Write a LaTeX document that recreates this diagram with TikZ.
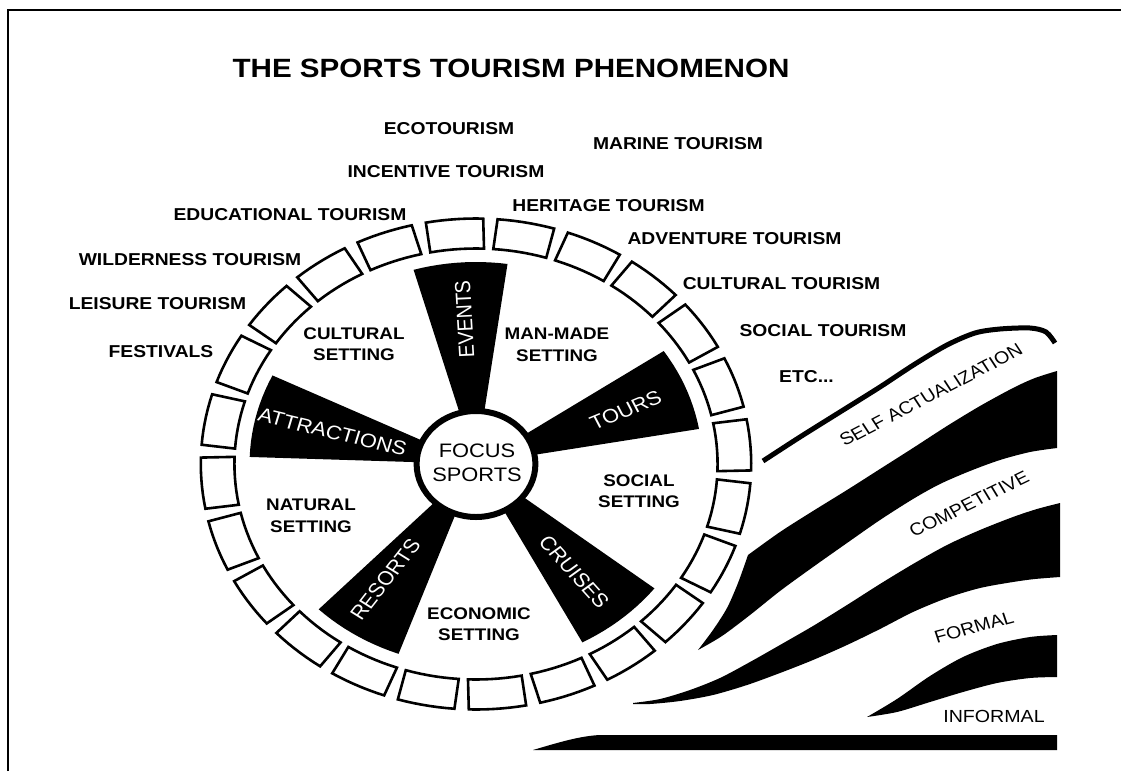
\documentclass[tikz,border=0pt]{standalone}
\usepackage{fontspec}
\setmainfont{Liberation Sans}
\newcommand\spTitleFont{\fontsize{26.4}{30}\selectfont\bfseries}
\newcommand\spLabFont{\fontsize{17.2}{20}\selectfont\bfseries}
\newcommand\spSetFont{\fontsize{16.8}{21.5}\selectfont\bfseries}
\newcommand\spBladeFont{\fontsize{19.5}{22}\selectfont}
\newcommand\spHubFont{\fontsize{19.5}{24}\selectfont}
\newcommand\spRibFont{\fontsize{17.5}{20}\selectfont}
\begin{document}
\begin{tikzpicture}[x=1pt,y=-1pt,
  txt/.style={inner sep=0pt, outer sep=0pt, xscale=1.121},
  lab/.style={txt, font=\spLabFont},
  setlab/.style={txt, font=\spSetFont, align=center},
  bladelab/.style={txt, font=\spBladeFont, text=white},
  hublab/.style={txt, font=\spHubFont, align=center},
  riblab/.style={txt, font=\spRibFont},
  boxst/.style={draw=black, line width=2.6pt, fill=white, line join=miter},
  band/.style={fill=black}]
\useasboundingbox (0,0) rectangle (1121,771);
% frame
\draw[line width=2.2pt] (8,771) -- (8,10) -- (1121,10);
% title
\node[txt, font=\spTitleFont] (title) at (511,68) {THE SPORTS TOURISM PHENOMENON};
% outer labels
\node[lab] (eco) at (449,128.5) {ECOTOURISM};
\node[lab] (mar) at (678,143.5) {MARINE TOURISM};
\node[lab] (inc) at (446,171.5) {INCENTIVE TOURISM};
\node[lab] (her) at (608.5,206) {HERITAGE TOURISM};
\node[lab] (edu) at (290,215) {EDUCATIONAL TOURISM};
\node[lab] (adv) at (734.5,239) {ADVENTURE TOURISM};
\node[lab] (wil) at (190,260) {WILDERNESS TOURISM};
\node[lab] (cul) at (781.5,284) {CULTURAL TOURISM};
\node[lab] (lei) at (157.5,303.5) {LEISURE TOURISM};
\node[lab] (soc) at (823,331) {SOCIAL TOURISM};
\node[lab] (fes) at (161,351.5) {FESTIVALS};
\node[lab] (etc) at (806.5,377) {ETC...};
% wheel
\begin{scope}[shift={(476,464)}, x=1.121pt, y=1pt]
  \foreach \k in {0,...,23} {
    \pgfmathsetmacro\ca{4.5+15*\k-6}
    \pgfmathsetmacro\cb{4.5+15*\k+6}
    \pgfmathsetmacro\cc{4.5+15*\k+6.4}
    \pgfmathsetmacro\cd{4.5+15*\k-6.4}
    \draw[boxst] plot[domain=\ca:\cb, samples=8] (\x:245.5)
      -- plot[domain=\cc:\cd, samples=8] (\x:215.5) -- cycle;
  }
  \foreach \a in {94,22,310,238,166} {
    \pgfmathsetmacro\aa{\a-12}
    \pgfmathsetmacro\ab{\a+12}
    \fill[black] (0,0) -- plot[domain=\aa:\ab, samples=12] (\x:202) -- cycle;
  }
  \draw[line width=6pt, fill=white] (0,0) ellipse[x radius=59.4pt, y radius=53pt];
  \node[bladelab, rotate=93] (ev) at (94:145) {EVENTS};
  \node[bladelab, rotate=25] (to) at (22:144) {TOURS};
  \node[bladelab, rotate=-51] (cr) at (-51:139) {CRUISES};
  \node[bladelab, rotate=55] (re) at (235:141) {RESORTS};
  \node[bladelab, rotate=-15] (at) at (166:132) {ATTRACTIONS};
\end{scope}
\node[hublab] (hub) at (477,463) {FOCUS\\SPORTS};
% settings
\node[setlab] (s1) at (354,344) {CULTURAL\\SETTING};
\node[setlab] (s2) at (557,345) {MAN-MADE\\SETTING};
\node[setlab] (s3) at (639,491) {SOCIAL\\SETTING};
\node[setlab] (s4) at (311,516) {NATURAL\\SETTING};
\node[setlab] (s5) at (479,624) {ECONOMIC\\SETTING};
% ribbons
\draw[line width=5pt] plot[smooth] coordinates {(763,461) (800,437) (840,412) (880,387) (915,364) (947,345) (975,333) (1000,329) (1030,328) (1046,332) (1055,343)};
\fill[band] plot[smooth] coordinates {(748,555) (780,532) (813,511) (847,490) (880,469) (913,448) (947,426) (980,406) (1013,388) (1035,378) (1057,371)}
  -- (1057,448)
  -- plot[smooth] coordinates {(1057,448) (1030,452) (1000,460) (970,471) (940,484) (913,499) (880,520) (847,543) (813,567) (780,591) (750,615) (722,636) (698,650)}
  -- plot[smooth] coordinates {(698,650) (713,630) (727,608) (738,583) (748,555)} -- cycle;
\fill[band] plot[smooth] coordinates {(633,703) (660,699) (690,690) (720,678) (750,662) (780,645) (813,626) (847,605) (880,584) (913,564) (947,545) (980,530) (1013,517) (1037,509) (1060,503)}
  -- (1060,577)
  -- plot[smooth] coordinates {(1060,577) (1035,579) (1013,582) (980,588) (947,598) (913,612) (880,629) (847,645) (813,660) (780,673) (747,685) (713,695) (680,701) (650,704) (633,704)} -- cycle;
\fill[band] plot[smooth] coordinates {(867,717) (897,699) (930,676) (963,657) (997,644) (1030,637) (1057,635)}
  -- (1057,677)
  -- plot[smooth] coordinates {(1057,677) (1030,678) (997,683) (963,692) (930,702) (897,712) (867,717)} -- cycle;
\fill[band] (533,750) .. controls (560,742) and (580,736) .. (600,735) -- (1057,735) -- (1057,750) -- cycle;
% ribbon labels
\node[riblab, rotate=30.3] (r1) at (931,395) {SELF ACTUALIZATION};
\node[riblab, rotate=28.5] (r2) at (969,504) {COMPETITIVE};
\node[riblab, rotate=16.6] (r3) at (974,627) {FORMAL};
\node[riblab] (r4) at (994,716) {INFORMAL};
\end{tikzpicture}
\end{document}
